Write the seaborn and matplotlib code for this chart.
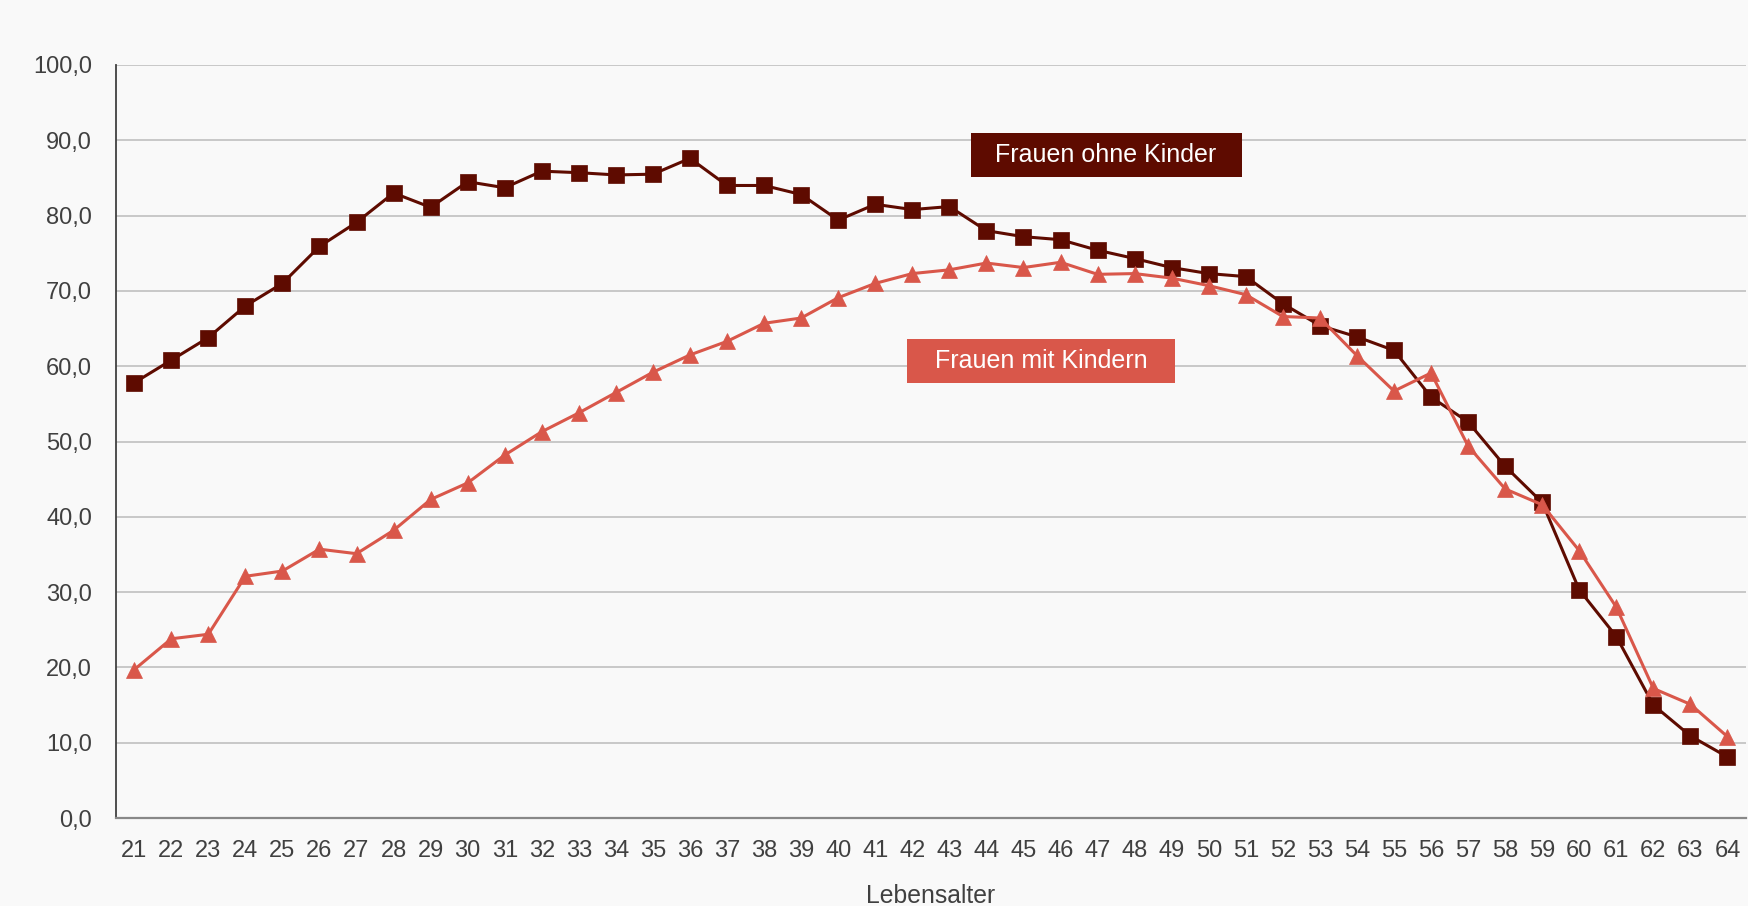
import matplotlib
matplotlib.use("Agg")
import matplotlib.pyplot as plt
from matplotlib.patches import Rectangle
import seaborn as sns
import pandas as pd

ages = list(range(21, 65))
ohne_kinder = [57.8, 60.8, 63.8, 68.0, 71.0, 75.9, 79.1, 83.0, 81.1, 84.5,
               83.7, 85.9, 85.7, 85.4, 85.5, 87.6, 84.0, 84.0, 82.8, 79.4,
               81.5, 80.8, 81.2, 78.0, 77.2, 76.8, 75.4, 74.3, 73.1, 72.3,
               71.9, 68.3, 65.4, 63.9, 62.1, 55.9, 52.6, 46.7, 41.9, 30.3,
               24.1, 15.0, 10.9, 8.1]
mit_kindern = [19.7, 23.8, 24.4, 32.1, 32.8, 35.7, 35.1, 38.2, 42.3, 44.5,
               48.2, 51.3, 53.8, 56.5, 59.2, 61.5, 63.3, 65.7, 66.4, 69.1,
               71.0, 72.3, 72.8, 73.7, 73.1, 73.8, 72.2, 72.3, 71.7, 70.7,
               69.5, 66.6, 66.4, 61.4, 56.7, 59.1, 49.4, 43.7, 41.6, 35.5,
               28.0, 17.2, 15.1, 10.8]
series_names = ["Frauen ohne Kinder", "Frauen mit Kindern"]
y_ticks = [0, 10, 20, 30, 40, 50, 60, 70, 80, 90, 100]
x_label = "Lebensalter"

DARK = "#5E0B00"
LIGHT = "#D9574A"
BG = "#F9F9F9"
TXT = "#404040"

sns.set_style("white")
plt.rcParams["font.family"] = ["Liberation Sans", "DejaVu Sans"]

df = pd.DataFrame({"age": ages, "ohne": ohne_kinder, "mit": mit_kindern})

W, H = 1749, 906
fig = plt.figure(figsize=(W / 100, H / 100), dpi=100, facecolor=BG)
ax = fig.add_axes([115.7 / W, 88 / H, (1746 - 115.7) / W, (818 - 65) / H])
ax.set_facecolor(BG)

sns.lineplot(data=df, x="age", y="ohne", ax=ax, color=DARK, lw=2.2,
             marker="s", markersize=11.5, markeredgecolor=DARK, markeredgewidth=0.5)
sns.lineplot(data=df, x="age", y="mit", ax=ax, color=LIGHT, lw=2.2,
             marker="^", markersize=11.5, markeredgecolor=LIGHT, markeredgewidth=0.5)

ax.set_xlim(ages[0] - 0.5, ages[-1] + 0.5)
ax.set_ylim(0, 100)
ax.set_yticks(y_ticks)
ax.set_yticklabels([f"{v:.1f}".replace(".", ",") for v in y_ticks])
ax.set_xticks(ages)
ax.set_xticklabels([str(a) for a in ages])
ax.set_xticks([a - 0.5 for a in ages] + [ages[-1] + 0.5], minor=True)

ax.yaxis.grid(True, color="#C4C4C4", lw=1.3)
ax.set_axisbelow(True)
for s in ["top", "right"]:
    ax.spines[s].set_visible(False)
ax.spines["left"].set_color("#404040")
ax.spines["left"].set_linewidth(1.3)
ax.spines["bottom"].set_color("#888888")
ax.spines["bottom"].set_linewidth(1.6)

ax.tick_params(axis="y", length=6, width=1, color="#888888", pad=11,
               labelsize=17, labelcolor=TXT)
ax.tick_params(axis="x", which="major", length=0, pad=16, labelsize=17,
               labelcolor=TXT)
ax.tick_params(axis="x", which="minor", length=6, width=1, color="#888888")

ax.set_xlabel(x_label, fontsize=17.8, color=TXT, labelpad=16)
ax.set_ylabel("")

# label boxes
boxes = [(47.23, 88.0, 7.31, DARK, series_names[0]),
         (45.47, 60.7, 7.24, LIGHT, series_names[1])]
for cx, cy, bw, col, name in boxes:
    bh = 5.84
    ax.add_patch(Rectangle((cx - bw / 2, cy - bh / 2), bw, bh, facecolor=col,
                           edgecolor="none", zorder=5))
    ax.text(cx, cy, name, ha="center", va="center", fontsize=18,
            color="white", zorder=6)

fig.savefig("out.png", dpi=100, facecolor=BG)
